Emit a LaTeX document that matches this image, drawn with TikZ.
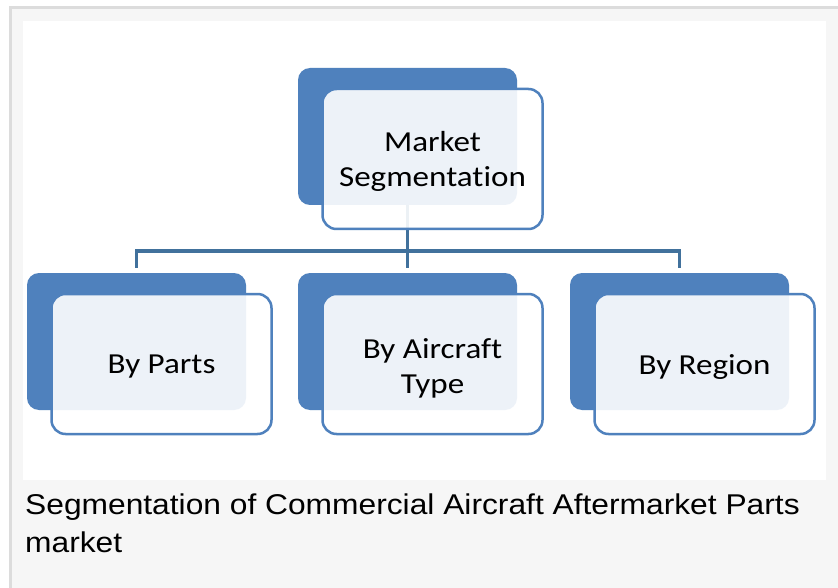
\documentclass[tikz,border=0pt]{standalone}
\usepackage{fontspec}
\setmainfont{Carlito}[FakeStretch=1.14, RawFeature=-liga]
\newfontfamily\capfont{Liberation Sans}[FakeStretch=1.11]
\usetikzlibrary{backgrounds}
\definecolor{boxblue}{HTML}{4F81BD}
\definecolor{linkblue}{HTML}{41719C}
\definecolor{framegray}{HTML}{DCDCDC}
\definecolor{panelgray}{HTML}{F6F6F6}
\newcommand{\lowertxt}[2]{\raisebox{-#1}[\height][\depth]{#2}}
\tikzset{
  backbox/.style={rectangle, rounded corners=12pt, fill=boxblue, draw=none,
    minimum width=219pt, minimum height=137pt, inner sep=0pt, outer sep=0pt},
  frontbox/.style={rectangle, rounded corners=14pt, draw=boxblue, line width=2.5pt,
    fill=white, fill opacity=0.9, text opacity=1, draw opacity=1,
    minimum width=220pt, minimum height=140pt, align=center, inner sep=0pt,
    font=\fontsize{29}{35}\selectfont},
  conn/.style={draw=linkblue, line width=3pt, line join=miter},
  captext/.style={anchor=base west, inner sep=0pt, align=left,
    font=\capfont\fontsize{28.6}{38}\selectfont},
}
\begin{document}
\begin{tikzpicture}[x=1pt,y=-1pt]
\useasboundingbox (0,0) rectangle (838,588);
\begin{scope}[on background layer]
  \fill[white] (0,0) rectangle (838,588);
  \draw[framegray, fill=panelgray, line width=3pt] (10.5,7.5) rectangle (850,600);
  \fill[white] (23,21) rectangle (826,480);
\end{scope}

% back boxes
\node[backbox] (tb) at (407.5,136.5) {};
\node[backbox] (lb) at (136.5,341.5) {};
\node[backbox] (mb) at (407.5,341.5) {};
\node[backbox] (rb) at (679.5,341.5) {};

% front boxes
\node[frontbox] (tf) at (432.5,159) {\lowertxt{2pt}{Market}\\\lowertxt{2pt}{Segmentation}};
\node[frontbox] (lf) at (161.5,364) {\lowertxt{3pt}{By Parts}};
\node[frontbox] (mf) at (432.5,364) {\lowertxt{4pt}{By Aircraft}\\\lowertxt{4pt}{Type}};
\node[frontbox] (rf) at (704.5,364) {\lowertxt{3pt}{By Region}};

% connectors
\coordinate (j) at (407.5,251);
\begin{scope}[on background layer]
  \draw[conn] (tb.south) -- (j);
  \draw[conn, shorten >=5pt] (j) -- (mb.north);
  \draw[conn, shorten >=5pt] (j) -| (lb.north);
  \draw[conn, shorten >=5pt] (j) -| (rb.north);
\end{scope}

% caption
\node[captext] (cap) at (25,552) {Segmentation of Commercial Aircraft Aftermarket Parts\\market};
\end{tikzpicture}
\end{document}
